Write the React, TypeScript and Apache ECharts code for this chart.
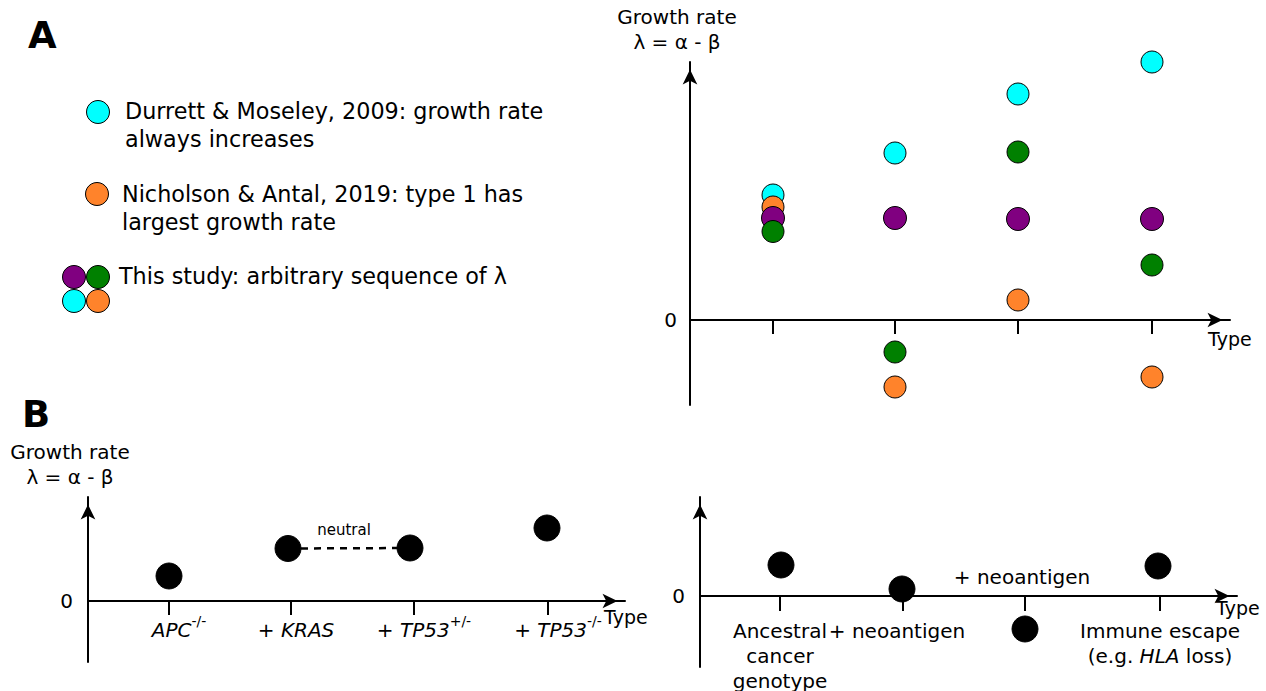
import React, { useEffect, useRef } from "react";
import * as echarts from "echarts";

const FONT = '"DejaVu Sans", "Noto Sans", sans-serif';
const BLACK = "#000000";
const CYAN = "#00ffff";
const ORANGE = "#ff832b";
const PURPLE = "#800080";
const GREEN = "#008000";

// ---------- Panel A (top right): growth rate per type ----------
const typePosA = [83, 205, 328, 462];
const cyanA = [12.5, 16.7, 22.6, 25.8];
const orangeA = [11.3, -6.7, 2.0, -5.7];
const purpleA = [10.2, 10.2, 10.1, 10.1];
const greenA = [8.85, -3.2, 16.8, 5.5];

// ---------- Panel B left: colorectal sequence ----------
const typePosBL = [81, 203, 326, 460];
const dotPosBL = [81, 200, 322, 459];
const rateBL = [2.5, 5.25, 5.3, 7.3];
const tickPrefixBL = ["", "+ ", "+ ", "+ "];
const tickGeneBL = ["APC", "KRAS", "TP53", "TP53"];
const tickSupBL = ["-/-", "", "+/-", "-/-"];

// ---------- Panel B right: neoantigen / immune escape ----------
const typePosBR = [80, 203, 325, 460];
const dotPosBR = [81, 202, 325, 458];
const rateBR = [3.1, 0.7, -3.3, 3.0];
const tickLabelsBR = [
  "Ancestral\ncancer\ngenotype",
  "{r|+ neoantigen}",
  "",
  "Immune escape\n(e.g. {i|HLA} loss)",
];

// ---------- Legend ----------
const legendTexts = [
  "Durrett & Moseley, 2009: growth rate\nalways increases",
  "Nicholson & Antal, 2019: type 1 has\nlargest growth rate",
  "This study: arbitrary sequence of λ",
];

const yName = "Growth rate\nλ = α - β";

function pts(xs: number[], ys: number[]) {
  return xs.map((x, i) => [x, ys[i]]);
}

function findIdx(arr: number[], v: number) {
  for (let i = 0; i < arr.length; i++) if (Math.abs(arr[i] - v) < 0.5) return i;
  return -1;
}

const axisLineStyle = { color: BLACK, width: 2 };
const arrowLine = (onZero: boolean) => ({
  show: true,
  onZero,
  symbol: ["none", "arrow"],
  symbolSize: [11, 15],
  symbolOffset: [0, -7.5],
  lineStyle: axisLineStyle,
});

const zeroLabel = (margin: number) => ({
  show: true,
  customValues: [0],
  formatter: (v: number) => (Math.abs(v) < 1e-9 ? "0" : ""),
  margin,
  color: BLACK,
  fontFamily: FONT,
  fontSize: 20,
});

const typeName = (gap: number, lh: number) => ({
  name: "Type",
  nameLocation: "end",
  nameGap: gap,
  nameMoveOverlap: false,
  nameTextStyle: {
    fontSize: 19,
    color: BLACK,
    fontFamily: FONT,
    verticalAlign: "top",
    lineHeight: lh,
  },
});

function dotSeries(
  name: string,
  color: string,
  data: number[][],
  gi: number,
  size: number
) {
  return {
    type: "scatter",
    name,
    xAxisIndex: gi,
    yAxisIndex: gi,
    data,
    symbol: "circle",
    symbolSize: size,
    clip: false,
    itemStyle: { color, borderColor: BLACK, borderWidth: 1, opacity: 1 },
    emphasis: { disabled: true },
    silent: true,
    z: 3,
  };
}

export default function App() {
  const ref = useRef<HTMLDivElement>(null);

  useEffect(() => {
    if (!ref.current) return;
    const chart = echarts.init(ref.current, null, { renderer: "svg" });

    const blLabel = (v: number) => {
      const i = findIdx(typePosBL, v);
      if (i < 0) return "";
      const hasSup = tickSupBL[i] !== "";
      const padKey = hasSup ? "20" : "10";
      let s = "";
      if (tickPrefixBL[i]) {
        s += `{pre${padKey}|${tickPrefixBL[i]}}{it|${tickGeneBL[i]}}`;
      } else {
        s += `{it${padKey}|${tickGeneBL[i]}}`;
      }
      if (hasSup) s += `{sup|${tickSupBL[i]}}`;
      return s;
    };

    const PT = 18;
    const mainTok = { fontSize: 20, lineHeight: 22, fontFamily: FONT, color: BLACK };
    const gridBase = { containLabel: false, outerBoundsMode: "none" };
    const hiddenY = (gi: number) => ({
      type: "value",
      gridIndex: gi,
      min: 0,
      max: 1,
      show: false,
    });

    const option: any = {
      animation: false,
      backgroundColor: "#ffffff",
      textStyle: { fontFamily: FONT, color: BLACK },
      grid: [
        { ...gridBase, left: 690, top: 62, width: 540, height: 343 },
        { ...gridBase, left: 88, top: 497, width: 537, height: 165 },
        { ...gridBase, left: 700, top: 497, width: 537, height: 170 },
        // label-only grids whose bottom edge sits on the zero line
        { ...gridBase, left: 88, top: 497, width: 537, height: 104 },
        { ...gridBase, left: 700, top: 497, width: 537, height: 99 },
      ],
      xAxis: [
        {
          type: "value",
          gridIndex: 0,
          min: 0,
          max: 540,
          axisLine: arrowLine(true),
          axisTick: {
            show: true,
            customValues: typePosA,
            length: 14,
            lineStyle: { color: BLACK, width: 2 },
          },
          axisLabel: { show: false },
          splitLine: { show: false },
          ...typeName(-22, 38),
        },
        {
          type: "value",
          gridIndex: 1,
          min: 0,
          max: 537,
          axisLine: arrowLine(true),
          axisTick: {
            show: true,
            customValues: typePosBL,
            length: 14,
            lineStyle: { color: BLACK, width: 2 },
          },
          axisLabel: { show: false },
          splitLine: { show: false },
          ...typeName(-21, 32),
        },
        {
          type: "value",
          gridIndex: 2,
          min: 0,
          max: 537,
          axisLine: arrowLine(true),
          axisTick: {
            show: true,
            customValues: typePosBR,
            length: 15,
            lineStyle: { color: BLACK, width: 2 },
          },
          axisLabel: { show: false },
          splitLine: { show: false },
          ...typeName(-21, 24),
        },
        {
          type: "value",
          gridIndex: 3,
          min: 0,
          max: 537,
          position: "bottom",
          axisLine: { show: false, onZero: false },
          axisTick: { show: false },
          splitLine: { show: false },
          axisLabel: {
            show: true,
            customValues: typePosBL,
            formatter: blLabel,
            margin: 9,
            color: BLACK,
            fontFamily: FONT,
            fontSize: 20,
            rich: {
              pre20: { ...mainTok, padding: [PT, 0, 0, 20] },
              pre10: { ...mainTok, padding: [PT, 0, 0, 10] },
              it: { ...mainTok, fontStyle: "italic", padding: [PT, 0, 0, 0] },
              it20: { ...mainTok, fontStyle: "italic", padding: [PT, 0, 0, 20] },
              it10: { ...mainTok, fontStyle: "italic", padding: [PT, 0, 0, 10] },
              sup: {
                fontSize: 14,
                lineHeight: 15,
                verticalAlign: "top",
                padding: [4, 0, 0, 0],
                fontFamily: FONT,
                color: BLACK,
              },
            },
          },
        },
        {
          type: "value",
          gridIndex: 4,
          min: 0,
          max: 537,
          position: "bottom",
          axisLine: { show: false, onZero: false },
          axisTick: { show: false },
          splitLine: { show: false },
          axisLabel: {
            show: true,
            customValues: typePosBR,
            formatter: (v: number) => {
              const i = findIdx(typePosBR, v);
              return i < 0 ? "" : tickLabelsBR[i];
            },
            margin: 22,
            color: BLACK,
            fontFamily: FONT,
            fontSize: 20,
            lineHeight: 25,
            align: "center",
            rich: {
              i: { fontStyle: "italic", fontSize: 20, lineHeight: 25, fontFamily: FONT, color: BLACK },
              r: { fontSize: 20, lineHeight: 25, fontFamily: FONT, color: BLACK, padding: [0, 12, 0, 0] },
            },
          },
        },
      ],
      yAxis: [
        {
          type: "value",
          gridIndex: 0,
          min: -8.5,
          max: 25.8,
          axisLine: arrowLine(false),
          axisTick: { show: false },
          axisLabel: zeroLabel(13),
          splitLine: { show: false },
          name: yName,
          nameLocation: "end",
          nameGap: 7.5,
          nameMoveOverlap: false,
          nameTextStyle: {
            fontSize: 20,
            lineHeight: 25,
            color: BLACK,
            fontFamily: FONT,
            align: "center",
            padding: [0, 26, 0, 0],
          },
        },
        {
          type: "value",
          gridIndex: 1,
          min: -6.1,
          max: 10.4,
          axisLine: arrowLine(false),
          axisTick: { show: false },
          axisLabel: zeroLabel(15),
          splitLine: { show: false },
          name: yName,
          nameLocation: "end",
          nameGap: 7.5,
          nameMoveOverlap: false,
          nameTextStyle: {
            fontSize: 20,
            lineHeight: 25,
            color: BLACK,
            fontFamily: FONT,
            align: "center",
            padding: [0, 36, 0, 0],
          },
        },
        {
          type: "value",
          gridIndex: 2,
          min: -7.1,
          max: 9.9,
          axisLine: arrowLine(false),
          axisTick: { show: false },
          axisLabel: zeroLabel(15),
          splitLine: { show: false },
        },
        hiddenY(3),
        hiddenY(4),
      ],
      series: [
        dotSeries("Durrett & Moseley", CYAN, pts(typePosA, cyanA), 0, 22),
        dotSeries("Nicholson & Antal", ORANGE, pts(typePosA, orangeA), 0, 22),
        dotSeries("This study (purple)", PURPLE, pts(typePosA, purpleA), 0, 23),
        dotSeries("This study (green)", GREEN, pts(typePosA, greenA), 0, 22),
        {
          type: "line",
          xAxisIndex: 1,
          yAxisIndex: 1,
          data: [
            [dotPosBL[1], rateBL[1]],
            [dotPosBL[2], rateBL[2]],
          ],
          symbol: "none",
          lineStyle: { color: BLACK, width: 2.5, type: [7, 6] },
          silent: true,
          z: 2,
        },
        dotSeries("Sequence", BLACK, pts(dotPosBL, rateBL), 1, 26),
        dotSeries("Immune", BLACK, pts(dotPosBR, rateBR), 2, 26),
      ],
      graphic: [
        {
          type: "text",
          style: { text: "A", x: 28, y: 35, fill: BLACK, fontFamily: FONT, fontSize: 37, fontWeight: "bold", align: "left", verticalAlign: "middle" },
        },
        {
          type: "text",
          style: { text: "B", x: 22, y: 414, fill: BLACK, fontFamily: FONT, fontSize: 37, fontWeight: "bold", align: "left", verticalAlign: "middle" },
        },
        { type: "circle", shape: { cx: 98, cy: 112, r: 11.5 }, style: { fill: CYAN, stroke: BLACK, lineWidth: 1 } },
        { type: "circle", shape: { cx: 97, cy: 194, r: 11.5 }, style: { fill: ORANGE, stroke: BLACK, lineWidth: 1 } },
        { type: "circle", shape: { cx: 74, cy: 277, r: 11.5 }, style: { fill: PURPLE, stroke: BLACK, lineWidth: 1 } },
        { type: "circle", shape: { cx: 98, cy: 277, r: 11.5 }, style: { fill: GREEN, stroke: BLACK, lineWidth: 1 } },
        { type: "circle", shape: { cx: 74, cy: 301, r: 11.5 }, style: { fill: CYAN, stroke: BLACK, lineWidth: 1 } },
        { type: "circle", shape: { cx: 98, cy: 301, r: 11.5 }, style: { fill: ORANGE, stroke: BLACK, lineWidth: 1 } },
        {
          type: "text",
          style: { text: legendTexts[0], x: 125, y: 97, fill: BLACK, fontFamily: FONT, fontSize: 22.3, lineHeight: 28, align: "left", verticalAlign: "top" },
        },
        {
          type: "text",
          style: { text: legendTexts[1], x: 122, y: 180, fill: BLACK, fontFamily: FONT, fontSize: 22.3, lineHeight: 28, align: "left", verticalAlign: "top" },
        },
        {
          type: "text",
          style: { text: legendTexts[2], x: 119, y: 262, fill: BLACK, fontFamily: FONT, fontSize: 22.3, lineHeight: 28, align: "left", verticalAlign: "top" },
        },
        {
          type: "text",
          style: { text: "neutral", x: 344, y: 530, fill: BLACK, fontFamily: FONT, fontSize: 15, align: "center", verticalAlign: "middle" },
        },
        {
          type: "text",
          style: { text: "+ neoantigen", x: 1022, y: 577, fill: BLACK, fontFamily: FONT, fontSize: 20, align: "center", verticalAlign: "middle" },
        },
      ],
    };

    chart.setOption(option);
    return () => chart.dispose();
  }, []);

  return (
    <div
      ref={ref}
      style={{ position: "fixed", left: 0, top: 0, width: 1266, height: 691, background: "#ffffff" }}
    />
  );
}
